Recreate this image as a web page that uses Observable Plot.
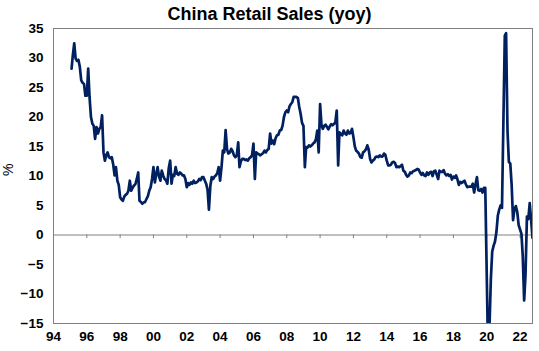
<!DOCTYPE html>
<html><head><meta charset="utf-8">
<script src="https://cdn.jsdelivr.net/npm/d3@7"></script>
<script src="https://cdn.jsdelivr.net/npm/@observablehq/plot@0.6"></script>
<style>
body{margin:0;background:#fff;font-family:"Liberation Sans",Arial,sans-serif;}
#title{width:539px;height:22px;line-height:22px;padding-top:3px;text-align:center;font-weight:bold;font-size:18px;color:#000;}
</style></head><body>
<div id="title">China Retail Sales (yoy)</div>
<div id="chart"></div>
<script>
// Monthly retail sales growth (% yoy), Jan..Dec, starting Jan 1995; null = not reported
const sales1995_1999 = [
  null, 28.2, 30.5, 32.5, 29.9, 29.5, 29.7, 28.5, 26.2, 25.8, 25.6, 23.6,
  23.6, 28.2, 23.4, 20.0, 18.9, 18.5, 16.3, 18.3, 17.2, 18.0, 18.3, 20.3,
  14.0, 12.6, 13.5, 14.0, 13.2, 13.0, 13.2, 12.0, 10.1, 11.5, 9.2, 8.5,
  6.4, 6.0, 5.8, 6.5, 6.8, 7.0, 7.5, 9.2, 7.5, 8.0, 8.4, 8.6,
  9.5, 10.6, 5.8, 5.6, 5.3, 5.5, 5.6, 6.1, 6.6, 7.5, 8.1, 9.5
];
const sales2000_2004 = [
  11.5, 8.9, 10.2, 11.5, 10.0, 9.2, 10.9, 10.1, 9.5, 9.3, 8.7, 11.3,
  12.6, 8.7, 10.2, 10.0, 11.5, 10.4, 10.2, 10.6, 10.4, 10.1, 10.1, 9.5,
  8.1, 8.8, 8.5, 8.9, 8.7, 9.2, 8.8, 8.9, 9.1, 9.5, 9.3, 9.8,
  9.8, 9.2, 8.7, 7.7, 4.3, 8.3, 9.8, 9.5, 9.9, 10.1, 10.5, 11.5,
  9.2, 11.5, 14.3, 14.0, 17.8, 14.5, 13.8, 14.0, 14.6, 14.2, 13.5, 13.2
];
const sales2005_2009 = [
  13.5, 15.7, 11.5, 12.5, 12.9, 12.9, 12.7, 12.8, 12.6, 13.0, 13.2, 13.5,
  15.5, 9.5, 14.0, 13.8, 13.7, 13.5, 13.7, 13.9, 14.3, 14.0, 14.4, 14.6,
  17.2, 15.5, 16.0, 15.4, 16.4, 16.9, 17.0, 17.7, 17.8, 18.5, 20.0, 20.8,
  21.1, 20.8, 21.8, 22.2, 22.5, 23.4, 23.4, 23.4, 23.2, 21.7, 20.5, 19.0,
  18.5, 11.5, 14.9, 14.8, 15.2, 15.0, 15.2, 15.5, 15.7, 16.2, 17.7, 14.0
];
const sales2010_2014 = [
  22.2, 18.6, 18.0, 18.5, 18.7, 18.3, 17.9, 18.4, 18.8, 18.6, 18.8, 19.1,
  21.1, 11.8, 17.4, 17.1, 16.9, 17.7, 17.2, 17.0, 17.7, 17.2, 17.3, 18.0,
  16.6, 15.0, 14.3, 14.1, 13.8, 13.2, 13.1, 14.0, 14.2, 14.5, 15.2, 14.5,
  12.9, 12.3, 12.6, 12.8, 13.2, 13.3, 13.2, 13.5, 13.3, 13.3, 13.8, 13.6,
  12.6, 11.8, 11.8, 11.9, 12.3, 12.4, 12.2, 11.5, 11.6, 11.5, 11.7, 11.9
];
const sales2015_2019 = [
  10.9, 10.7, 10.2, 9.9, 10.1, 10.6, 10.5, 10.8, 10.9, 11.0, 11.2, 11.1,
  10.6, 10.2, 10.5, 10.1, 10.0, 10.6, 10.2, 10.6, 10.7, 10.0, 10.8, 10.9,
  10.2, 9.5, 10.9, 10.7, 10.7, 11.0, 10.4, 10.1, 10.3, 10.0, 10.2, 9.4,
  9.9, 9.7, 10.1, 9.4, 8.5, 9.0, 8.8, 9.0, 9.2, 8.6, 8.1, 8.2,
  8.2, 8.2, 8.7, 7.2, 8.6, 9.8, 7.6, 7.5, 7.8, 7.2, 8.0, 8.0
];
const sales2020_2022 = [
  null, -20.5, -15.8, -7.5, -2.8, -1.8, -1.1, 0.5, 3.3, 4.3, 5.0, 4.6,
  null, 33.8, 34.2, 17.7, 12.4, 12.1, 8.5, 2.5, 4.4, 4.9, 3.9, 1.7,
  null, 0.2, -3.5, -11.1, -6.7, 3.1, 2.7, 5.4, 2.5, -0.5
];
const startYear = 1995;
const yTicks = [-15, -10, -5, 0, 5, 10, 15, 20, 25, 30, 35];
const xTickYears = [1994, 1996, 1998, 2000, 2002, 2004, 2006, 2008, 2010, 2012, 2014, 2016, 2018, 2020, 2022];
const xTickLabels = ["94", "96", "98", "00", "02", "04", "06", "08", "10", "12", "14", "16", "18", "20", "22"];

const allValues = [].concat(sales1995_1999, sales2000_2004, sales2005_2009, sales2010_2014, sales2015_2019, sales2020_2022);
const data = allValues
  .map((v, i) => ({date: new Date(Date.UTC(startYear, i, 1)), value: v}))
  .filter(d => d.value != null);
const xTickDates = xTickYears.map(y => new Date(Date.UTC(y, 0, 1)));
const labelOf = new Map(xTickYears.map((y, i) => [y, xTickLabels[i]]));

const font = '"Liberation Sans", Arial, sans-serif';
const chart = Plot.plot({
  width: 539,
  height: 326,
  marginTop: 3,
  marginBottom: 28,
  marginLeft: 53,
  marginRight: 7,
  style: {fontFamily: font, fontSize: "13.5px", fontWeight: "bold", color: "#000", background: "#fff", overflow: "visible"},
  x: {type: "utc", domain: [new Date(Date.UTC(1994, 0, 1)), new Date(Date.UTC(2022, 9, 1))]},
  y: {domain: [-15, 35]},
  marks: [
    Plot.axisX({ticks: xTickDates, tickFormat: d => labelOf.get(d.getUTCFullYear()), tickSize: 0, tickPadding: 8, label: null}),
    Plot.axisY({ticks: yTicks, tickSize: 0, tickPadding: 10, label: null}),
    Plot.ruleY([0], {stroke: "#808080", strokeWidth: 1}),
    Plot.ruleX(xTickDates, {y1: 0, y2: -0.6, stroke: "#808080"}),
    Plot.line(data, {x: "date", y: "value", stroke: "#002060", strokeWidth: 2.7, clip: true}),
    Plot.frame({stroke: "#808080"}),
    Plot.text(["%"], {text: d => d, frameAnchor: "left", dx: -45, rotate: -90, fontSize: 14, fontWeight: "normal"})
  ]
});
document.getElementById("chart").appendChild(chart);
</script></body></html>
